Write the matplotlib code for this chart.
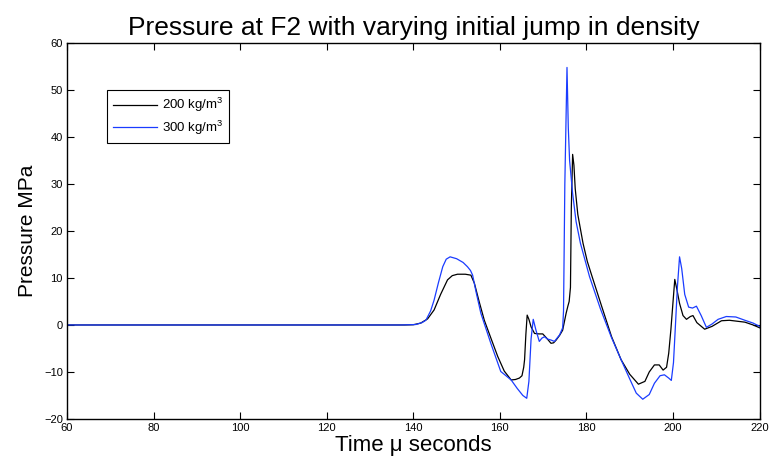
import matplotlib
matplotlib.use('Agg')
import matplotlib.pyplot as plt

plt.rcParams['font.family'] = ['Liberation Sans', 'DejaVu Sans']
plt.rcParams['mathtext.fontset'] = 'custom'
plt.rcParams['mathtext.rm'] = 'Liberation Sans'
plt.rcParams['mathtext.it'] = 'Liberation Sans'

# time (micro seconds) and pressure (MPa)
t_200 = [60, 138, 140, 141.7, 143.3, 144.8, 146.3, 147.9, 149, 150.2, 152, 153.3, 154.1,
         155.2, 156.4, 158, 159.5, 161, 162.6, 163.6, 164.5, 165.1, 165.5, 165.7, 166.0,
         166.3, 166.7, 167.2, 168, 169, 169.9, 170.8, 171.8, 172.4, 173, 173.8, 174.5,
         175.3, 175.7, 176.0, 176.3, 176.5, 176.8, 177.1, 177.4, 178, 179.2, 180.2, 181.3,
         183.5, 185.8, 188, 190, 192, 193.5, 194.5, 195.7, 196.8, 197.7, 198.5, 199, 199.5,
         200, 200.4, 200.9, 201.5, 202.3, 203.1, 204, 204.6, 205.5, 207.3, 209, 211.2, 213,
         216.6, 218.5, 220]
p_200 = [0, 0, 0.05, 0.4, 1.3, 3.2, 6.5, 9.6, 10.5, 10.8, 10.8, 10.6, 8.9,
         5, 1, -3, -6.7, -9.8, -11.7, -11.6, -11.3, -10.8, -9, -7.4, -2,
         2.1, 1.2, -0.4, -1.8, -1.9, -1.9, -2.8, -3.9, -3.8, -3.2, -2.2, -1.1,
         2.5, 4, 5, 8, 25, 36.3, 34, 29, 23.5, 17.4, 13.5, 10.3,
         4, -2.5, -7.4, -10.5, -12.6, -12, -10, -8.5, -8.5, -9.6, -9, -6, -1,
         5, 9.7, 7.5, 4.6, 2, 1.2, 1.8, 2, 0.5, -0.9, -0.3, 0.9, 1,
         0.6, 0, -0.6]

t_300 = [60, 137, 139, 140.6, 142, 142.9, 144, 144.8, 145.8, 146.8, 147.6, 148.5, 150,
         151.5, 152.5, 153.2, 153.7, 154.5, 155.6, 157.9, 160.2, 162.6, 164, 165.3, 166.2,
         166.7, 167.2, 167.7, 168.3, 169.1, 169.7, 170.3, 171, 171.8, 172.6, 173.8, 174.5,
         174.7, 175.0, 175.5, 175.8, 176.1, 176.8, 177.6, 178.6, 180.7, 183.2, 185.7, 188,
         190, 191.5, 193, 194.5, 195.7, 197, 198, 199, 199.6, 200.1, 200.5, 201, 201.5, 202,
         202.7, 203.6, 204.5, 205.4, 206.5, 207.7, 209, 210.4, 212.3, 214.5, 216.6, 218.5,
         220]
p_300 = [0, 0, 0.05, 0.1, 0.5, 1, 3, 5.3, 9, 12.4, 14, 14.5, 14.1,
         13.3, 12.4, 11.6, 10.6, 7, 2.5, -3.9, -9.9, -11.7, -13.5, -15, -15.6,
         -12, -3, 1.2, -1, -3.5, -2.8, -2.5, -3, -3.2, -3.5, -2.1, -0.6,
         3, 30, 54.8, 42, 35, 28, 22, 17.4, 10.3, 3.5, -2.5, -7.4,
         -11.5, -14.5, -15.8, -14.8, -12.4, -10.8, -10.6, -11.3, -11.8, -8, -1, 8, 14.5, 12,
         6.5, 3.8, 3.6, 4, 2, -0.5, 0.2, 1.2, 1.8, 1.7, 1, 0.4,
         -0.3]

fig = plt.figure(figsize=(7.73, 4.65), dpi=100)
ax = fig.add_axes([0.0867, 0.099, 0.896, 0.8085])

ax.plot(t_200, p_200, color='black', lw=0.9, label='200 kg/m$^3$')
ax.plot(t_300, p_300, color='#1a3cff', lw=0.9, label='300 kg/m$^3$')

ax.set_xlim(60, 220)
ax.set_ylim(-20, 60)
ax.set_xticks(range(60, 221, 20))
ax.set_yticks(range(-20, 61, 10))
ax.tick_params(direction='in', top=True, right=True, labelsize=8, length=5, width=0.8, pad=3)
for s in ax.spines.values():
    s.set_linewidth(1.0)

ax.set_title('Pressure at F2 with varying initial jump in density', fontsize=19, pad=6)
ax.set_xlabel('Time \u03bc seconds', fontsize=16, labelpad=1)
ax.set_ylabel('Pressure MPa', fontsize=15, labelpad=5)

leg = ax.legend(loc='upper left', bbox_to_anchor=(0.058, 0.875), fontsize=9.5,
                frameon=True, fancybox=False, edgecolor='black', framealpha=1,
                handlelength=3.3, borderpad=0.45, labelspacing=0.35, handletextpad=0.4,
                borderaxespad=0)
leg.get_frame().set_linewidth(0.8)

fig.savefig('out.png', dpi=100)
